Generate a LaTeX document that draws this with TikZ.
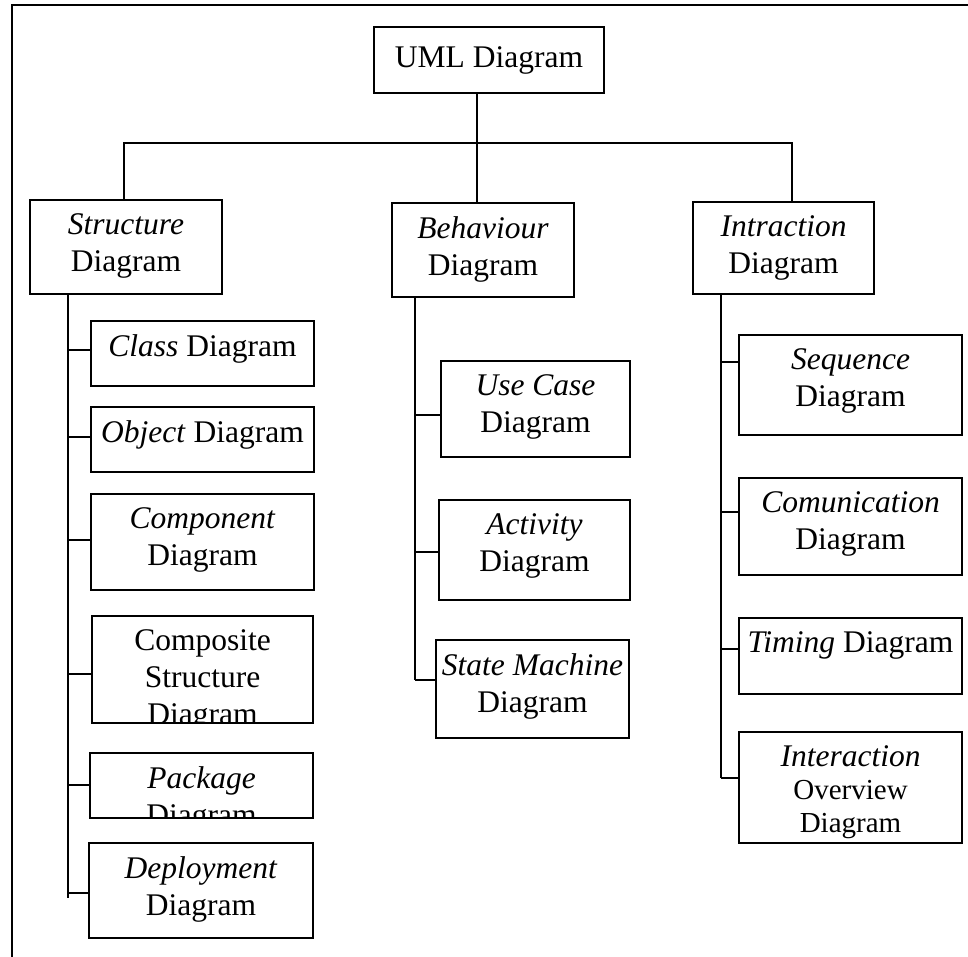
\documentclass[tikz,border=0pt]{standalone}
\usepackage{fontspec}
\setmainfont{Liberation Serif}
\tikzset{
  box/.style={draw, line width=2pt, anchor=north west, inner sep=0pt,
    path picture={\node[boxtext] at ([yshift=-13pt]path picture bounding box.north) {#1};}},
  boxtext/.style={draw=none, anchor=north, align=center, inner sep=0pt,
    minimum width=0pt, minimum height=0pt, font=\fontsize{31.5}{37}\selectfont},
  topbox/.style={draw, line width=2pt, anchor=north west, inner sep=0pt, font=\fontsize{31.5}{37}\selectfont},
  link/.style={line width=2pt},
  frame/.style={line width=2.5pt}
}
\newcommand{\ovfont}{\fontsize{29}{34}\selectfont}

\begin{document}
\begin{tikzpicture}[x=1pt,y=-1pt]
\useasboundingbox (0,0) rectangle (968,957);
% Rahmen
\draw[frame] (968,5) -- (12,5) -- (12,957);
% Wurzel
\node[topbox, minimum width=230pt, minimum height=66pt] (uml) at (373,26) {UML Diagram};
% Ebene 1
\node[box={\textit{Structure}\\Diagram}, minimum width=192pt, minimum height=94pt] (struct) at (29,199) {};
\node[box={\textit{Behaviour}\\Diagram}, minimum width=182pt, minimum height=94pt] (behav) at (391,202) {};
\node[box={\textit{Intraction}\\Diagram}, minimum width=181pt, minimum height=92pt] (intr) at (692,201) {};
% Structure
\node[box={\textit{Class} Diagram}, minimum width=223pt, minimum height=65pt] (class) at (90,320) {};
\node[box={\textit{Object} Diagram}, minimum width=223pt, minimum height=65pt] (object) at (90,406) {};
\node[box={\textit{Component}\\Diagram}, minimum width=223pt, minimum height=96pt] (comp) at (90,493) {};
\node[box={Composite\\Structure\\Diagram}, minimum width=221pt, minimum height=107pt] (compo) at (91,615) {};
\node[box={\textit{Package}\\Diagram}, minimum width=223pt, minimum height=65pt] (pack) at (89,752) {};
\node[box={\textit{Deployment}\\Diagram}, minimum width=224pt, minimum height=95pt] (deploy) at (88,842) {};
% Behaviour
\node[box={\textit{Use Case}\\Diagram}, minimum width=189pt, minimum height=96pt] (usecase) at (440,360) {};
\node[box={\textit{Activity}\\Diagram}, minimum width=191pt, minimum height=100pt] (activity) at (438,499) {};
\node[box={\textit{State Machine}\\Diagram}, minimum width=193pt, minimum height=98pt] (state) at (435,639) {};
% Interaction
\node[box={\textit{Sequence}\\Diagram}, minimum width=223pt, minimum height=100pt] (seq) at (738,334) {};
\node[box={\textit{Comunication}\\Diagram}, minimum width=223pt, minimum height=97pt] (comm) at (738,477) {};
\node[box={\textit{Timing} Diagram}, minimum width=223pt, minimum height=76pt] (timing) at (738,617) {};
\node[box={\textit{Interaction}\\[-4pt]\ovfont Overview\\[-4pt]\ovfont Diagram}, minimum width=223pt, minimum height=111pt] (inter) at (738,731) {};

% Verbindungen oben
\coordinate (hub) at (477,143);
\coordinate (jl) at (124,143);
\coordinate (jr) at (792,143);
\draw[link] (uml.south -| hub) -- (behav.north -| hub);
\draw[link] (struct.north -| jl) -- (jl) -- (jr) -- (intr.north -| jr);

% Staemme
\coordinate (sstem) at (68,293);
\coordinate (bstem) at (415,296);
\coordinate (istem) at (721,293);
\foreach \n/\dy in {class/3.5,object/2.5,comp/2,compo/-4.5,pack/0.5,deploy/-2.5}
  \draw[link] ([yshift=\dy pt]\n.west) coordinate (\n-t) -- (\n-t -| sstem);
\foreach \n/\dy in {usecase/-6,activity/-2,state/9}
  \draw[link] ([yshift=\dy pt]\n.west) coordinate (\n-t) -- (\n-t -| bstem);
\foreach \n/\dy in {seq/23,comm/14.5,timing/7,inter/9.5}
  \draw[link] ([yshift=\dy pt]\n.west) coordinate (\n-t) -- (\n-t -| istem);
\draw[link] (struct.south -| sstem) -- ([yshift=-5pt]deploy-t -| sstem);
\draw[link] (behav.south -| bstem) -- (state-t -| bstem);
\draw[link] (intr.south -| istem) -- (inter-t -| istem);
\end{tikzpicture}
\end{document}
